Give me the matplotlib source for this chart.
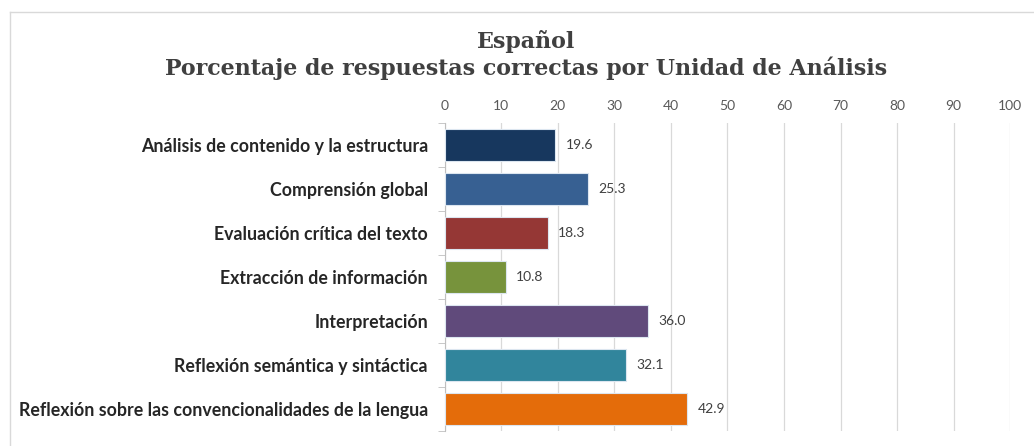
import matplotlib.pyplot as plt
import numpy as np

categorias = [
    'Análisis de contenido y la estructura',
    'Comprensión global',
    'Evaluación crítica del texto',
    'Extracción de información',
    'Interpretación',
    'Reflexión semántica y sintáctica',
    'Reflexión sobre las convencionalidades de la lengua',
]
porcentajes = [19.6, 25.3, 18.3, 10.8, 36.0, 32.1, 42.9]
colores = ['#17375E', '#376092', '#953735', '#77933C', '#604A7B', '#31859C', '#E46C0A']
ticks_x = list(range(0, 101, 10))

fig = plt.figure(figsize=(10.34, 4.46), dpi=100)
ax = fig.add_axes([0.430, 0.034, 0.547, 0.690])

y = np.arange(len(categorias))
ax.barh(y, porcentajes, height=0.73, color=colores, edgecolor='#dce6f0', linewidth=0.8, zorder=3)
for yi, v in zip(y, porcentajes):
    ax.text(v + 1.8, yi, f'{v:.1f}', va='center', ha='left', fontsize=10,
            family='Lato', color='#404040')

ax.set_xlim(0, 100)
ax.set_ylim(len(categorias) - 0.5, -0.5)
ax.set_xticks(ticks_x)
ax.xaxis.tick_top()
ax.tick_params(axis='x', length=0, labelsize=10, labelcolor='#595959', pad=8)
for lab in ax.get_xticklabels():
    lab.set_family('Lato')
ax.grid(axis='x', color='#d9d9d9', linewidth=0.9, zorder=0)

ax.set_yticks(y)
ax.set_yticklabels(categorias, fontsize=12.8, fontweight='bold', family='Lato', color='#262626')
ax.set_yticks(np.arange(-0.5, len(categorias)), minor=True)
ax.tick_params(axis='y', which='major', length=0, pad=12)
ax.tick_params(axis='y', which='minor', length=5, color='#bfbfbf', direction='out')
for s in ['top', 'right', 'bottom']:
    ax.spines[s].set_visible(False)
ax.spines['left'].set_color('#bfbfbf')

fig.text(0.509, 0.908, 'Español', ha='center', va='center', fontsize=15.9,
         fontweight='bold', family='DejaVu Serif', color='#404040')
fig.text(0.509, 0.848, 'Porcentaje de respuestas correctas por Unidad de Análisis', ha='center',
         va='center', fontsize=15.9, fontweight='bold', family='DejaVu Serif', color='#404040')

# marco de la hoja de cálculo
fig.add_artist(plt.Line2D([0.01, 1.0], [0.973, 0.973], color='#d9d9d9', lw=1, transform=fig.transFigure))
fig.add_artist(plt.Line2D([0.01, 0.01], [0.0, 0.973], color='#d9d9d9', lw=1, transform=fig.transFigure))

fig.savefig('out.png', dpi=100)
